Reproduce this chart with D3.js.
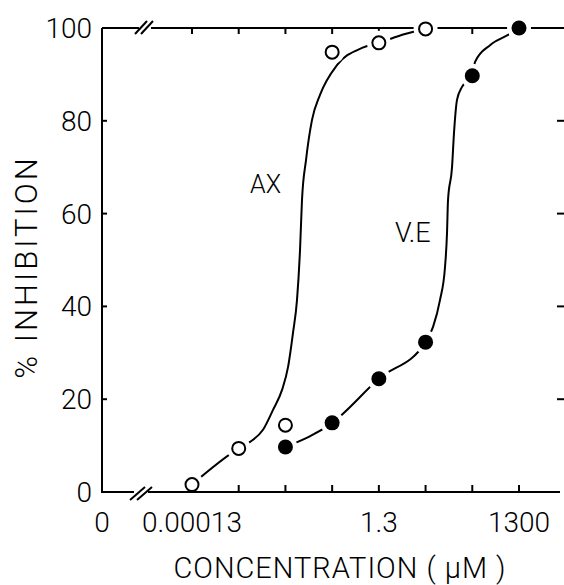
<!DOCTYPE html>
<html>
<head>
<meta charset="utf-8">
<script src="https://cdn.jsdelivr.net/npm/d3@7"></script>
<style>
  html, body { margin: 0; padding: 0; background: #fff; }
  svg { display: block; }
  text { font-family: Roboto, "Liberation Sans", Arial, sans-serif; font-weight: 300; fill: #000; }
</style>
</head>
<body>
<svg id="chart" width="564" height="585"></svg>
<script>
// ---- data ----
const tickConc = [0.00013, 0.0013, 0.013, 0.13, 1.3, 13, 130, 1300];
const xTickLabels = ["0.00013", "", "", "", "1.3", "", "", "1300"];
const yTicks = [0, 20, 40, 60, 80, 100];
const yTickLabels = ["0", "20", "40", "60", "80", "100"];

// AX (open circles)
const axConc = [0.00013, 0.0013, 0.013, 0.13, 1.3, 13];
const axInh  = [1.6, 9.4, 14.4, 94.8, 96.8, 99.8];
// AX fitted curve (hand-drawn sigmoid)
const axCurveConc = [0.00013, 0.0013, 0.00227, 0.0043, 0.00705, 0.011, 0.01477, 0.01888, 0.0230, 0.0267, 0.0294, 0.0359, 0.0482, 0.0715, 0.165, 0.567, 1.3, 4.72, 13];
const axCurveInh  = [1.6, 9.4, 10.8, 13.4, 17.7, 22.0, 26.9, 34.3, 41.4, 52.2, 62.9, 71.6, 80.2, 85.6, 92.0, 95.7, 96.8, 98.7, 99.8];

// V.E (filled circles)
const veConc = [0.013, 0.13, 1.3, 13, 130, 1300];
const veInh  = [9.7, 14.9, 24.4, 32.3, 89.7, 100];
const veCurveConc = [0.013, 0.13, 1.3, 13, 18.8, 26.5, 33.9, 37.4, 39.3, 47.9, 52.8, 61.2, 78.3, 130, 149, 312, 757, 1300];
const veCurveInh  = [9.7, 14.9, 24.4, 32.3, 35.6, 41.4, 48.5, 55.8, 62.9, 70.0, 77.4, 84.5, 87.3, 89.7, 92.7, 96.3, 98.5, 100];

const seriesLabels = ["AX", "V.E"];
const labelConc = [0.00227, 2.88];
const labelInh  = [64.4, 53.9];

// ---- layout ----
const svg = d3.select("#chart");
const x = d3.scaleLog().domain([0.00013, 1300]).range([192, 519]);
const y = d3.scaleLinear().domain([0, 100]).range([492, 28]);
const xLeft = 102, xRight = 564;
const sw = 2;

const gTop = svg.append("g");
const gCurves = svg.append("g");
const gHalo = svg.append("g");
const gBottom = svg.append("g");
const gMarks = svg.append("g");

// left spine
gTop.append("line").attr("x1", xLeft).attr("x2", xLeft).attr("y1", y(100)).attr("y2", y(0))
  .attr("stroke", "#000").attr("stroke-width", sw);
// y ticks (inward) on left
gTop.selectAll(".ytl").data(yTicks.filter(d => d > 0 && d < 100)).enter().append("line")
  .attr("x1", xLeft).attr("x2", xLeft + 5).attr("y1", d => y(d)).attr("y2", d => y(d))
  .attr("stroke", "#000").attr("stroke-width", sw);
// y ticks on right side (no spine)
gTop.selectAll(".ytr").data(yTicks.filter(d => d > 0 && d < 100)).enter().append("line")
  .attr("x1", 557).attr("x2", xRight).attr("y1", d => y(d)).attr("y2", d => y(d))
  .attr("stroke", "#000").attr("stroke-width", sw);
// y tick labels
gTop.selectAll(".ylab").data(yTicks).enter().append("text")
  .attr("x", 92).attr("y", d => y(d) + 10).attr("text-anchor", "end")
  .attr("font-size", 28).text((d, i) => yTickLabels[i]);

// top axis with break
gTop.append("line").attr("x1", xLeft).attr("x2", 139).attr("y1", y(100)).attr("y2", y(100))
  .attr("stroke", "#000").attr("stroke-width", sw);
gTop.append("line").attr("x1", 151).attr("x2", xRight).attr("y1", y(100)).attr("y2", y(100))
  .attr("stroke", "#000").attr("stroke-width", sw);
[0, 6].forEach(o => gTop.append("line")
  .attr("x1", 135 + o).attr("y1", y(100) + 6).attr("x2", 147 + o).attr("y2", y(100) - 7)
  .attr("stroke", "#000").attr("stroke-width", sw));
gTop.selectAll(".ttk").data(tickConc).enter().append("line")
  .attr("x1", d => x(d)).attr("x2", d => x(d)).attr("y1", y(100)).attr("y2", y(100) + 6)
  .attr("stroke", "#000").attr("stroke-width", sw);

// curves
const line = d3.line().x(d => x(d[0])).y(d => y(d[1])).curve(d3.curveMonotoneX);
gCurves.append("path").attr("d", line(axCurveConc.map((c, i) => [c, axCurveInh[i]])))
  .attr("fill", "none").attr("stroke", "#000").attr("stroke-width", sw);
gCurves.append("path").attr("d", line(veCurveConc.map((c, i) => [c, veCurveInh[i]])))
  .attr("fill", "none").attr("stroke", "#000").attr("stroke-width", sw);

// halos (gaps round markers)
const allPts = axConc.map((c, i) => [c, axInh[i]]).concat(veConc.map((c, i) => [c, veInh[i]]));
gHalo.selectAll("circle").data(allPts).enter().append("circle")
  .attr("cx", d => x(d[0])).attr("cy", d => y(d[1])).attr("r", 12).attr("fill", "#fff");

// bottom axis with break
gBottom.append("line").attr("x1", xLeft - 1).attr("x2", 134).attr("y1", y(0)).attr("y2", y(0))
  .attr("stroke", "#000").attr("stroke-width", sw);
gBottom.append("line").attr("x1", 148).attr("x2", 560).attr("y1", y(0)).attr("y2", y(0))
  .attr("stroke", "#000").attr("stroke-width", sw);
[0, 7].forEach(o => gBottom.append("line")
  .attr("x1", 130 + o).attr("y1", y(0) + 8).attr("x2", 145 + o).attr("y2", y(0) - 5)
  .attr("stroke", "#000").attr("stroke-width", sw));
gBottom.selectAll(".btk").data(tickConc).enter().append("line")
  .attr("x1", d => x(d)).attr("x2", d => x(d)).attr("y1", y(0)).attr("y2", y(0) - 7)
  .attr("stroke", "#000").attr("stroke-width", sw);
gBottom.selectAll(".xlab").data(tickConc).enter().append("text")
  .attr("x", d => x(d)).attr("y", 532).attr("text-anchor", "middle")
  .attr("font-size", 28).text((d, i) => xTickLabels[i]);
gBottom.append("text").attr("x", xLeft).attr("y", 532).attr("text-anchor", "middle")
  .attr("font-size", 28).text("0");

// axis titles
svg.append("text").attr("x", 340).attr("y", 578).attr("text-anchor", "middle")
  .attr("font-size", 29).attr("letter-spacing", 1).text("CONCENTRATION ( µM )");
svg.append("text").attr("transform", "translate(37,267) rotate(-90)")
  .attr("text-anchor", "middle").attr("font-size", 31).attr("letter-spacing", 3)
  .text("% INHIBITION");

// series labels
svg.selectAll(".slab").data(seriesLabels).enter().append("text")
  .attr("x", (d, i) => x(labelConc[i])).attr("y", (d, i) => y(labelInh[i]))
  .attr("font-size", (d, i) => i === 0 ? 25 : 27).text(d => d);

// markers
gMarks.selectAll(".ax").data(axConc.map((c, i) => [c, axInh[i]])).enter().append("circle")
  .attr("cx", d => x(d[0])).attr("cy", d => y(d[1])).attr("r", 6.5)
  .attr("fill", "#fff").attr("stroke", "#000").attr("stroke-width", 2);
gMarks.selectAll(".ve").data(veConc.map((c, i) => [c, veInh[i]])).enter().append("circle")
  .attr("cx", d => x(d[0])).attr("cy", d => y(d[1])).attr("r", 7.5)
  .attr("fill", "#000");
</script>
</body>
</html>
